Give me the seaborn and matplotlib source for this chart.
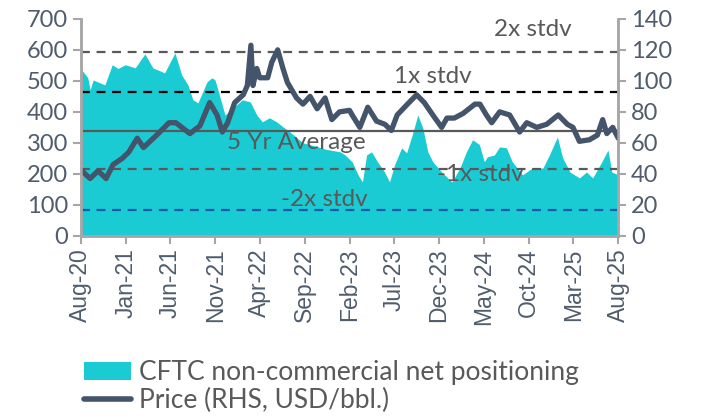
import pandas as pd
import numpy as np
import matplotlib
matplotlib.use("Agg")
import matplotlib.pyplot as plt
import matplotlib.dates as mdates
from matplotlib.patches import Patch
from matplotlib.lines import Line2D
import seaborn as sns

# ---- data ----
cftc_dates = [
    "2020-08-01", "2020-08-25", "2020-09-02", "2020-09-12", "2020-10-02", "2020-10-22",
    "2020-11-16", "2020-12-06", "2020-12-30", "2021-02-02", "2021-03-07", "2021-04-03",
    "2021-05-13", "2021-06-17", "2021-07-10", "2021-07-31", "2021-08-17", "2021-09-03",
    "2021-10-04", "2021-10-21", "2021-10-31", "2021-11-07", "2021-12-04", "2022-01-01",
    "2022-02-01", "2022-02-28", "2022-03-22", "2022-04-10", "2022-05-04", "2022-05-28",
    "2022-06-19", "2022-07-13", "2022-08-26", "2022-10-06", "2022-11-09", "2022-12-31",
    "2023-01-16", "2023-02-09", "2023-03-01", "2023-03-16", "2023-03-30", "2023-04-16",
    "2023-05-06", "2023-05-30", "2023-06-16", "2023-07-03", "2023-07-27", "2023-08-13",
    "2023-09-01", "2023-09-20", "2023-10-07", "2023-10-24", "2023-11-10", "2023-12-10",
    "2024-01-14", "2024-02-10", "2024-03-03", "2024-03-24", "2024-04-16", "2024-05-03",
    "2024-05-13", "2024-06-06", "2024-06-24", "2024-07-17", "2024-08-06", "2024-09-10",
    "2024-10-13", "2024-11-18", "2024-12-10", "2025-01-06", "2025-01-24", "2025-02-18",
    "2025-03-22", "2025-04-15", "2025-05-06", "2025-06-06", "2025-06-27", "2025-07-10",
    "2025-08-01",
]
cftc_values = [
    540, 510, 471, 503, 495, 487,
    552, 540, 552, 542, 587, 542,
    526, 590, 519, 487, 439, 429,
    497, 510, 503, 481, 390, 413,
    439, 432, 390, 368, 381, 368,
    352, 335, 300, 290, 280, 271,
    261, 239, 197, 174, 261, 271,
    239, 206, 174, 229, 284, 268,
    326, 390, 348, 271, 239, 206,
    174, 219, 271, 310, 295, 239,
    255, 261, 287, 284, 239, 197,
    219, 219, 261, 319, 252, 206,
    187, 206, 187, 239, 277, 206,
    197,
]

price_dates = [
    "2020-08-01", "2020-09-02", "2020-09-29", "2020-10-26", "2020-11-19", "2020-12-20",
    "2021-01-11", "2021-02-09", "2021-03-02", "2021-04-16", "2021-05-28", "2021-06-20",
    "2021-08-07", "2021-09-10", "2021-10-13", "2021-11-07", "2021-11-25", "2021-12-13",
    "2022-01-06", "2022-02-04", "2022-02-18", "2022-03-02", "2022-03-09", "2022-03-22",
    "2022-04-01", "2022-04-28", "2022-05-12", "2022-06-01", "2022-06-19", "2022-07-04",
    "2022-08-04", "2022-08-26", "2022-09-19", "2022-10-13", "2022-11-09", "2022-12-02",
    "2022-12-28", "2023-01-31", "2023-02-09", "2023-03-07", "2023-04-03", "2023-05-03",
    "2023-05-31", "2023-06-22", "2023-07-12", "2023-08-16", "2023-09-16", "2023-10-12",
    "2023-11-10", "2023-12-10", "2023-12-28", "2024-01-22", "2024-02-21", "2024-04-01",
    "2024-04-18", "2024-05-10", "2024-05-28", "2024-06-24", "2024-07-28", "2024-08-31",
    "2024-09-24", "2024-10-28", "2024-12-01", "2025-01-09", "2025-02-09", "2025-02-28",
    "2025-03-22", "2025-04-25", "2025-05-22", "2025-06-09", "2025-06-23", "2025-07-13",
    "2025-08-01",
]
price_values = [
    42.6, 37, 42, 37, 46, 50,
    54, 63, 57, 65, 73, 73,
    66, 71, 86, 78, 67, 73,
    86, 91, 97, 123, 97, 108,
    102, 102, 112, 120, 108, 99,
    89, 85, 90, 82, 89, 75,
    80, 81, 78, 70, 83, 74,
    72, 68, 78, 85, 91, 86,
    78, 70, 76, 76, 79, 85,
    85, 78, 73, 80, 78, 67,
    73, 70, 72, 78, 72, 70,
    61, 62, 65, 75, 66, 70,
    63,
]

# statistical reference levels (LHS units)
avg_5yr = 339
plus_1sd = 465
plus_2sd = 593
minus_1sd = 216
minus_2sd = 84

tick_dates = ["2020-08-01", "2021-01-01", "2021-06-01", "2021-11-01", "2022-04-01",
              "2022-09-01", "2023-02-01", "2023-07-01", "2023-12-01", "2024-05-01",
              "2024-10-01", "2025-03-01", "2025-08-01"]

# ---- styling ----
CYAN = "#1BCBD3"
NAVY = "#44546A"
GREY = "#595959"
LABEL = "#505C6C"
SPINE = "#A6A6A6"
BLUE = "#0A5BB0"

sns.set_theme(style="white")
plt.rcParams["font.family"] = ["Lato", "DejaVu Sans"]

fig = plt.figure(figsize=(7.05, 4.19), dpi=100)
ax = fig.add_axes([0.1145, 0.437, 0.7625, 0.518])
ax2 = ax.twinx()

cd = pd.to_datetime(cftc_dates)
pdates = pd.to_datetime(price_dates)

ax.fill_between(cd, cftc_values, 0, color=CYAN, lw=0, zorder=1)

dash = (0, (4, 3))
ax.axhline(plus_2sd, color=GREY, lw=1.6, ls=dash, zorder=2)
ax.axhline(plus_1sd, color="black", lw=1.6, ls=dash, zorder=2)
ax.axhline(avg_5yr, color=GREY, lw=1.6, zorder=2)
ax.axhline(minus_1sd, color=GREY, lw=1.6, ls=dash, zorder=2)
ax.axhline(minus_2sd, color=BLUE, lw=1.6, ls=dash, zorder=2)

txt = dict(color=GREY, fontsize=17.5, ha="center", va="center", zorder=3)
ax.text(pd.Timestamp("2024-10-15"), 665, "2x stdv", **txt)
ax.text(pd.Timestamp("2023-11-10"), 513, "1x stdv", **txt)
ax.text(pd.Timestamp("2022-08-05"), 300, "5 Yr Average", **txt)
ax.text(pd.Timestamp("2024-04-20"), 197, "-1x stdv", **txt)
ax.text(pd.Timestamp("2022-11-05"), 116, "-2x stdv", **txt)

sns.lineplot(x=pdates, y=price_values, ax=ax2, color=NAVY, lw=3.8, legend=False)

xmin, xmax = pd.Timestamp("2020-08-01"), pd.Timestamp("2025-08-01")
ax.set_xlim(xmin, xmax)
ax.set_ylim(0, 700)
ax2.set_ylim(0, 140)
ax.set_yticks(np.arange(0, 701, 100))
ax2.set_yticks(np.arange(0, 141, 20))
ax.set_xticks(pd.to_datetime(tick_dates))
ax.xaxis.set_major_formatter(mdates.DateFormatter("%b-%y"))
ax.set_xlabel("")
ax2.set_ylabel("")

for a in (ax, ax2):
    a.tick_params(which="both", length=6, width=1.5, color=SPINE,
                  labelcolor=LABEL, labelsize=17, pad=3)
    a.grid(False)
    a.spines["top"].set_visible(False)
    for s in ("left", "right", "bottom"):
        a.spines[s].set_color(SPINE)
        a.spines[s].set_linewidth(1.8)
ax.tick_params(axis="y", left=True)
ax.tick_params(axis="x", bottom=True, rotation=90, labelsize=16.5)
ax2.tick_params(axis="y", right=True)
for t in ax.get_xticklabels():
    t.set_family(["Liberation Sans", "DejaVu Sans"])

handles = [Patch(facecolor=CYAN, edgecolor="none"),
           Line2D([0], [0], color=NAVY, lw=4, solid_capstyle="round")]
labels = ["CFTC non-commercial net positioning", "Price (RHS, USD/bbl.)"]
leg = fig.legend(handles, labels, loc="upper left", bbox_to_anchor=(0.119, 0.14),
                 frameon=False, fontsize=19, handlelength=1.8, handleheight=0.63,
                 handletextpad=0.3, labelspacing=0.1, borderpad=0, borderaxespad=0)
for t in leg.get_texts():
    t.set_color(GREY)

fig.savefig("out.png", dpi=100)
